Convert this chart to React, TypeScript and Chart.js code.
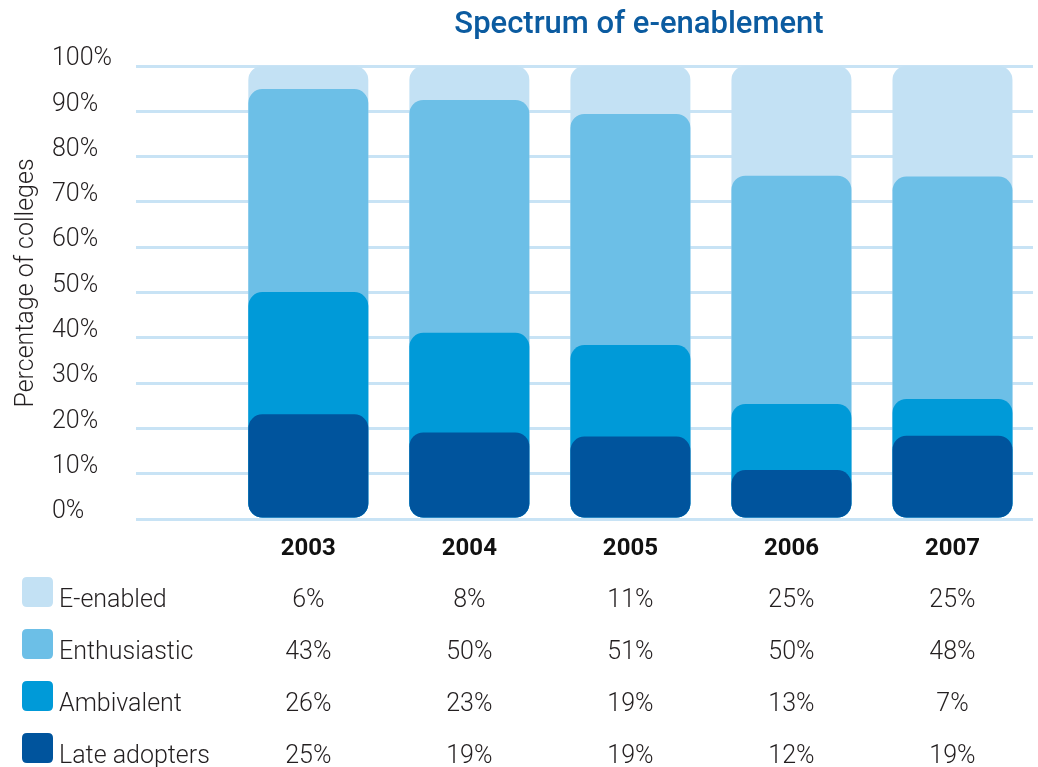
import React, { useEffect, useRef } from 'react';
import { Chart, registerables } from 'chart.js';

Chart.register(...registerables);

// ---------- data ----------
const TITLE = 'Spectrum of e-enablement';
const Y_TITLE = 'Percentage of colleges';
const YEARS = ['2003', '2004', '2005', '2006', '2007'];
const SERIES_NAMES = ['E-enabled', 'Enthusiastic', 'Ambivalent', 'Late adopters'];

// printed table values (%)
const E_ENABLED = [6, 8, 11, 25, 25];
const ENTHUSIASTIC = [43, 50, 51, 50, 48];
const AMBIVALENT = [26, 23, 19, 13, 7];
const LATE_ADOPTERS = [25, 19, 19, 12, 19];

// bar tops as drawn (cumulative %)
const E_ENABLED_TOP = [100, 100, 100, 100, 100];
const ENTHUSIASTIC_TOP = [94.9, 92.5, 89.4, 75.8, 75.6];
const AMBIVALENT_TOP = [50.1, 41.1, 38.4, 25.4, 26.5];
const LATE_ADOPTERS_TOP = [23.1, 19.1, 18.2, 10.8, 18.4];

const Y_TICK_STEP = 10;

// ---------- styles ----------
const COLORS = ['#c3e1f4', '#6cbfe7', '#009ad8', '#00549d'];
const TITLE_COLOR = '#0b5ba0';
const TEXT_COLOR = '#231f20';
const GRID_COLOR = '#c8e3f5';
const FONT = 'Roboto, "Noto Sans", sans-serif';

const TABLE_VALUES = [E_ENABLED, ENTHUSIASTIC, AMBIVALENT, LATE_ADOPTERS];

function roundRect(ctx: CanvasRenderingContext2D, x: number, y: number, w: number, h: number, r: number) {
  ctx.beginPath();
  ctx.moveTo(x + r, y);
  ctx.lineTo(x + w - r, y);
  ctx.quadraticCurveTo(x + w, y, x + w, y + r);
  ctx.lineTo(x + w, y + h - r);
  ctx.quadraticCurveTo(x + w, y + h, x + w - r, y + h);
  ctx.lineTo(x + r, y + h);
  ctx.quadraticCurveTo(x, y + h, x, y + h - r);
  ctx.lineTo(x, y + r);
  ctx.quadraticCurveTo(x, y, x + r, y);
  ctx.closePath();
}

const overlayPlugin = {
  id: 'overlay',
  afterDraw(chart: any) {
    const ctx: CanvasRenderingContext2D = chart.ctx;
    const xs = chart.scales.x;
    ctx.save();
    // title
    ctx.fillStyle = TITLE_COLOR;
    ctx.font = `500 31px ${FONT}`;
    ctx.textAlign = 'center';
    ctx.textBaseline = 'alphabetic';
    ctx.fillText(TITLE, 639, 33);

    // y axis title
    ctx.save();
    ctx.fillStyle = TEXT_COLOR;
    ctx.font = `300 25px ${FONT}`;
    ctx.translate(33, 283);
    ctx.rotate(-Math.PI / 2);
    ctx.textAlign = 'center';
    ctx.fillText(Y_TITLE, 0, 0);
    ctx.restore();

    // table / legend
    const rowBottom0 = 607;
    const rowStep = 52;
    for (let r = 0; r < SERIES_NAMES.length; r++) {
      const base = rowBottom0 + r * rowStep;
      ctx.fillStyle = COLORS[r];
      roundRect(ctx, 22, base - 30, 31, 30, 5);
      ctx.fill();
      ctx.fillStyle = TEXT_COLOR;
      ctx.font = `300 25px ${FONT}`;
      ctx.textAlign = 'left';
      ctx.fillText(SERIES_NAMES[r], 59, base);
      ctx.textAlign = 'center';
      TABLE_VALUES[r].forEach((v, i) => {
        ctx.fillText(`${v}%`, xs.getPixelForValue(i), base);
      });
    }
    ctx.restore();
  },
};

export default function App() {
  const ref = useRef<HTMLCanvasElement>(null);

  useEffect(() => {
    if (!ref.current) return;
    const tops = [LATE_ADOPTERS_TOP, AMBIVALENT_TOP, ENTHUSIASTIC_TOP, E_ENABLED_TOP];
    const names = [...SERIES_NAMES].reverse();
    const colors = [...COLORS].reverse();
    const chart = new Chart(ref.current, {
      type: 'bar',
      data: {
        datasets: tops.map((arr, k) => ({
          label: names[k],
          data: arr.map((y, i) => ({ x: i, y })),
          backgroundColor: colors[k],
          borderWidth: 0,
          borderRadius: 14,
          borderSkipped: false,
          grouped: false,
          barPercentage: 0.745,
          categoryPercentage: 1,
        })),
      },
      options: {
        responsive: false,
        animation: false,
        layout: { padding: { left: 52, top: 66, right: 5, bottom: 0 } },
        plugins: {
          legend: { display: false },
          tooltip: { enabled: false },
          title: { display: false },
        },
        scales: {
          x: {
            type: 'linear',
            offset: false,
            min: -1.07,
            max: 4.5,
            grid: { display: false, drawTicks: false, offset: false },
            border: { display: false },
            afterBuildTicks: (s: any) => {
              s.ticks = YEARS.map((_, i) => ({ value: i }));
            },
            afterFit: (s: any) => {
              s.height = 248;
            },
            ticks: {
              autoSkip: false,
              maxRotation: 0,
              padding: 16,
              color: '#111',
              font: { family: FONT, size: 24, weight: 'bold' },
              callback: (v: any) => YEARS[Number(v)] ?? '',
            },
          },
          y: {
            min: 0,
            max: 100,
            grid: { color: GRID_COLOR, lineWidth: 3, drawTicks: false },
            border: { display: false },
            afterFit: (s: any) => {
              s.width = 84;
            },
            ticks: {
              stepSize: Y_TICK_STEP,
              crossAlign: 'far',
              labelOffset: -7,
              color: TEXT_COLOR,
              font: { family: FONT, size: 25, weight: '300' },
              callback: (v: any) => `${v}%`,
            },
          },
        },
      },
      plugins: [overlayPlugin],
    } as any);
    return () => chart.destroy();
  }, []);

  return (
    <div style={{ position: 'fixed', left: 0, top: 0, width: 1038, height: 767, background: '#fff' }}>
      <canvas ref={ref} width={1038} height={767} />
    </div>
  );
}
